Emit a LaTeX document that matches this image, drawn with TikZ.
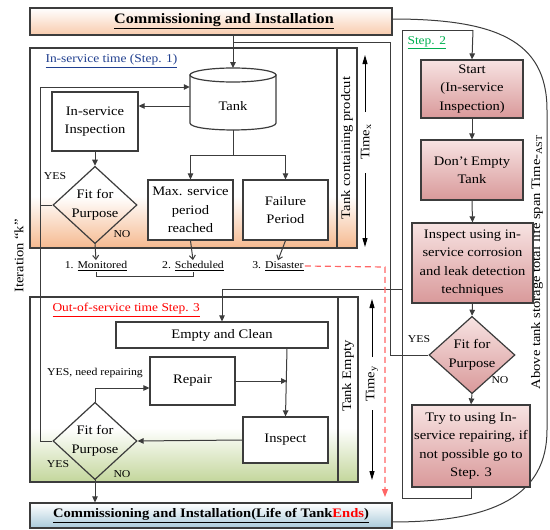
\documentclass[tikz,border=0pt]{standalone}
\usepackage{fontspec}
\setmainfont{Liberation Serif}[FakeStretch=1.12]
\usetikzlibrary{shapes.geometric,arrows.meta}
\definecolor{edge}{HTML}{3C3C3C}
\definecolor{peach}{HTML}{F5B98F}
\definecolor{peachlight}{HTML}{F8CBAD}
\definecolor{sage}{HTML}{C3D69B}
\definecolor{rose}{HTML}{D9999A}
\definecolor{blush}{HTML}{F7E3E2}
\definecolor{navy}{HTML}{203F8F}
\definecolor{leaf}{HTML}{00B050}
\definecolor{sky}{HTML}{A9CADA}
\definecolor{alarm}{HTML}{FF6666}
\newcommand\boxfs{\fontsize{13}{18.5}\selectfont}
\newcommand\labfs{\fontsize{10.5}{12}\selectfont}
\newcommand\stepfs{\fontsize{12}{14}\selectfont}
\newcommand\titlefs{\fontsize{13}{15}\selectfont\bfseries}
\newcommand\bigtitlefs{\fontsize{14.4}{16}\selectfont\bfseries}
\begin{document}
\begin{tikzpicture}[x=1pt,y=-1pt,
  line/.style={draw=edge, line width=1pt},
  arr/.style={line, -{Triangle[length=6pt,width=5.5pt]}},
  barb/.style={line, -{Straight Barb[length=4pt,width=6pt]}},
  tarr/.style={draw=black, line width=1pt, -{Triangle[length=9pt,width=5pt]}},
  frame/.style={draw=edge, line width=1.2pt},
  plainbox/.style={draw=edge, line width=1.2pt, fill=white, align=center, font=\boxfs, inner sep=1pt},
  pinkbox/.style={plainbox, top color=blush, bottom color=rose},
  fitd/.style={diamond, draw=edge, line width=1.2pt, align=center, font=\boxfs, inner sep=0pt, minimum width=84pt, minimum height=70pt},
  lab/.style={font=\labfs, inner sep=1pt},
]
\useasboundingbox (0,0) rectangle (550,530);

% ---------- life-span bracket on the right ----------
\coordinate (brtop) at (392,19);
\coordinate (brbot) at (392,522);
\draw[line] (brtop) .. controls (495,19) and (547,40) .. (547,110) -- (547,430) .. controls (547,495) and (495,522) .. (brbot);
\node[rotate=90, font=\boxfs] (span) at (537,262) {Above tank storage total life span Time-\textsubscript{AST}};
\node[rotate=90, font=\boxfs] (iter) at (19,256) {Iteration “k”};

% ---------- step 1 frame ----------
\fill[white] (30,48) rectangle (357,248);
\shade[top color=white, bottom color=peach] (30,196) rectangle (357,248);
\draw[frame] (30,48) rectangle (357,248);
\draw[frame] (337,48) rectangle (357,248);
\node[rotate=90, font=\boxfs] (prod) at (347,148) {Tank containing prodcut};
\node[rotate=90, font=\boxfs] (time1) at (366,142) {Time\textsubscript{x}};
\coordinate (t1a) at (365,112); \coordinate (t1b) at (365,55);
\coordinate (t1c) at (365,173); \coordinate (t1d) at (365,247);
\draw[tarr] (t1a) -- (t1b);
\draw[tarr] (t1c) -- (t1d);
\node[font=\stepfs, text=navy, anchor=west] (s1) at (42,61) {\underline{In-service time (Step. 1)}};

% ---------- step 3 frame ----------
\fill[white] (30,297) rectangle (358,482);
\shade[top color=white, bottom color=sage] (30,428) rectangle (358,482);
\draw[frame] (30,297) rectangle (358,482);
\draw[frame] (338,297) rectangle (358,482);
\node[rotate=90, font=\boxfs] (empt) at (348,376) {Tank Empty};
\node[rotate=90, font=\boxfs] (time2) at (372,384) {Time\textsubscript{y}};
\coordinate (t2a) at (372,357); \coordinate (t2b) at (372,299);
\coordinate (t2c) at (372,410); \coordinate (t2d) at (372,480);
\draw[tarr] (t2a) -- (t2b);
\draw[tarr] (t2c) -- (t2d);
\node[font=\stepfs, text=red, anchor=west] (s3) at (49,310) {\underline{Out-of-service time Step. 3}};

% ---------- commissioning bars ----------
\node[draw=edge, line width=1.2pt, top color=white, bottom color=peachlight, minimum width=362pt, minimum height=27pt, inner sep=0pt] (top) at (211,21.5) {};
\node[font=\bigtitlefs, inner sep=0pt] (toplab) at (224,21.5) {\underline{Commissioning and Installation}};
\node[draw=edge, line width=1.2pt, top color=white, bottom color=sky, minimum width=362pt, minimum height=25pt, inner sep=0pt, font=\titlefs] (bottom) at (211,515.5) {\underline{Commissioning and Installation(Life of Tank\textcolor{red}{Ends})}};

% ---------- step 1 content ----------
\node[draw=none, minimum width=86pt, minimum height=62pt, inner sep=0pt] (tank) at (233,99) {};
\filldraw[fill=white, draw=edge, line width=1.2pt] (190,75) -- (190,123) .. controls (190,132.3) and (276,132.3) .. (276,123) -- (276,75) -- cycle;
\filldraw[fill=white, draw=edge, line width=1.2pt] (233,75) ellipse [x radius=43, y radius=7];
\node[font=\boxfs] (tanklab) at (233,106) {Tank};

\node[plainbox, minimum width=86pt, minimum height=59pt] (insp) at (95,121.5) {In-service\\Inspection};
\node[fitd] (d1) at (95,205) {Fit for\\Purpose};
\node[plainbox, minimum width=85pt, minimum height=60pt] (maxs) at (190.5,210) {Max. service\\period\\reached};
\node[plainbox, minimum width=85pt, minimum height=60pt] (fail) at (285.5,210) {Failure\\Period};

\node[lab] (yes1) at (55,176) {YES};
\node[lab] (no1) at (122,234) {NO};
\node[lab] (l1) at (96,266) {1. \underline{Monitored}};
\node[lab] (l2) at (193,266) {2. \underline{Scheduled}};
\node[lab] (l3) at (278,266) {3. \underline{Disaster}};

% tank feed and outgoing branches
\coordinate (feed) at (233,42);
\draw[arr] (top.south -| tank.north) -- (233,68);
\coordinate (tankL) at (190,106);
\draw[arr] (tankL) -- (insp.east |- tankL);
\draw[arr] (insp.south) -- (d1.north);
\coordinate (split) at (233,155);
\draw[line] (233,130) -- (split);
\draw[arr] (split) -| (maxs.north);
\draw[arr] (split) -| (fail.north);
\draw[barb] (d1.south) -- (l1.north);
\draw[barb] (maxs.south) -- (l2.north);
\draw[barb] (fail.south) -- (l3.north);
\draw[line] (l1.south) -- ++(0,5) -| (l2.south);

% ---------- step 3 content ----------
\node[plainbox, minimum width=212pt, minimum height=26pt] (clean) at (222,335) {Empty and Clean};
\node[plainbox, minimum width=85pt, minimum height=48pt] (repair) at (192.5,381) {Repair};
\node[plainbox, minimum width=85pt, minimum height=46pt] (inspect) at (285.5,440) {Inspect};
\node[fitd, minimum height=72pt] (d2) at (95,441) {Fit for\\Purpose};
\node[lab] (yes2a) at (95,373) {YES, need repairing};
\node[lab] (yes2) at (58,464) {YES};
\node[lab] (no2) at (122,474) {NO};

\draw[arr] (287,348) -- (inspect.north);
\draw[arr] (repair.east) -- (287,381);
\draw[arr] (inspect.west) -- (d2.east);
\draw[arr] (d2.north) -- (95,388) -- (repair.west |- 0,388);
\draw[arr] (d2.south) -- (bottom.north -| d2.south);

% outer iteration loop back into the tank
\coordinate (loopL) at (40,87);
\draw[arr] (d2.west) -- (40,441) -- (loopL) -- (tank.west |- loopL);
\draw[line] (d1.west) -- (40,205);

% ---------- step 2 column ----------
\node[font=\stepfs, text=leaf, anchor=west] (s2) at (404,43) {\underline{Step. 2}};
\node[pinkbox, minimum width=102pt, minimum height=58pt] (start) at (472,89) {Start\\(In-service\\Inspection)};
\node[pinkbox, minimum width=102pt, minimum height=60pt] (dont) at (472,170) {Don't Empty\\Tank};
\node[pinkbox, minimum width=121pt, minimum height=80pt] (inspu) at (472.5,263) {Inspect using in-\\service corrosion\\and leak detection\\techniques};
\node[fitd, top color=blush, bottom color=rose, minimum width=86pt, minimum height=68pt] (d3) at (472,355) {Fit for\\Purpose};
\node[pinkbox, minimum width=118pt, minimum height=82pt] (try) at (471,446) {Try to using In-\\service repairing, if\\not possible go to\\Step. 3};
\node[lab] (yes3) at (419,339) {YES};
\node[lab] (no3) at (500,380) {NO};

\coordinate (s2top) at (473,30);
\coordinate (s2corner) at (402,30);
\coordinate (s2low) at (402,498);
\coordinate (s2branch) at (402,289);
\draw[arr] (s2top) -- (start.north);
\draw[arr] (start.south) -- (dont.north);
\draw[arr] (dont.south) -- (inspu.north);
\draw[arr] (inspu.south) -- (d3.north);
\draw[arr] (d3.south) -- (try.north);
\draw[line] (try.south) |- (s2low) -- (s2corner) -- (s2top);
\draw[arr] (s2branch) -- (clean.north |- s2branch) -- (clean.north);

% YES from step 2 returns to the tank
\draw[line] (d3.west) -- (390,355) -- (390,42) -- (feed);

% disaster path straight to the end of life
\draw[alarm, line width=1.2pt, dash pattern=on 6pt off 4pt, -{Triangle[length=8pt,width=6pt]}] (l3.east) -- (385,267) -- (385,497);
\end{tikzpicture}
\end{document}
